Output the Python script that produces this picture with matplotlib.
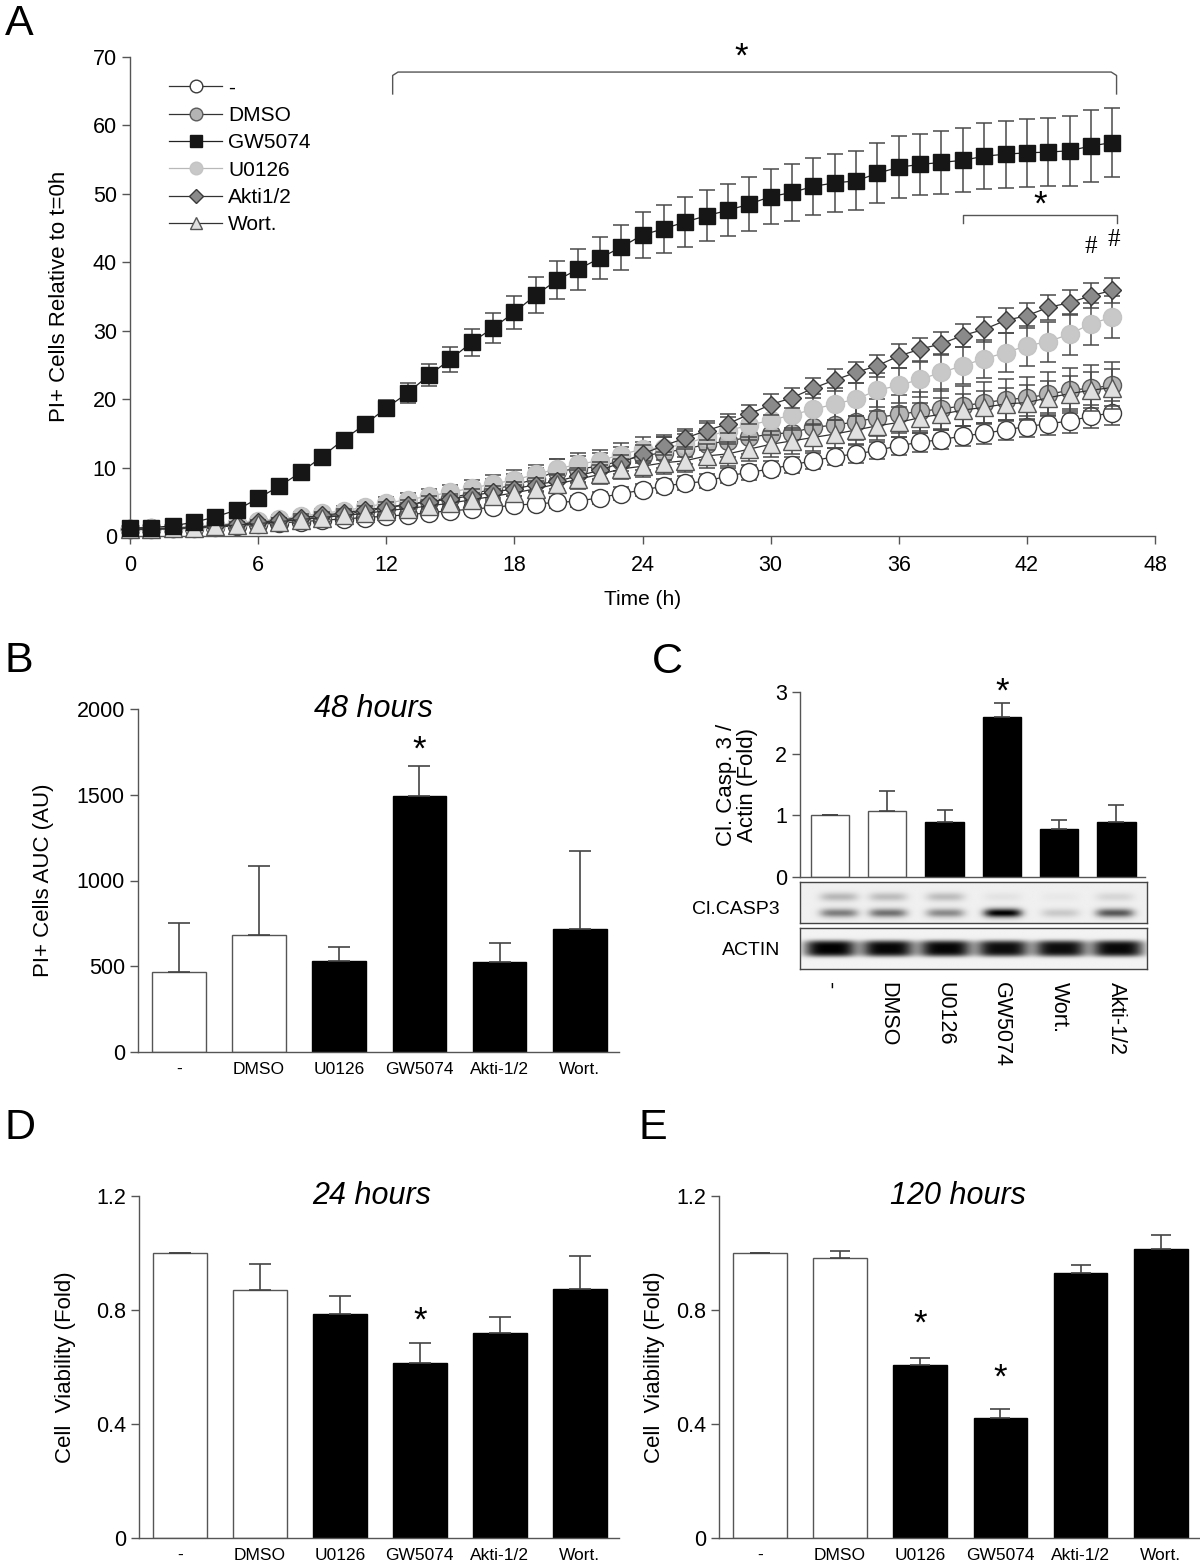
import numpy as np
import matplotlib.pyplot as plt
from matplotlib.lines import Line2D
from matplotlib.transforms import blended_transform_factory

plt.rcParams['font.family'] = ['Liberation Sans', 'DejaVu Sans']

# ---------------- panel A: PI+ cells over time ----------------
hours = np.arange(47)

ctrl = [1.0, 1.0, 1.1, 1.2, 1.3, 1.5, 1.7, 1.9, 2.1, 2.3,
        2.5, 2.7, 2.9, 3.1, 3.4, 3.7, 3.9, 4.2, 4.5, 4.7,
        4.9, 5.1, 5.6, 6.2, 6.7, 7.3, 7.7, 8.0, 8.8, 9.3,
        9.8, 10.4, 11.0, 11.6, 12.0, 12.5, 13.2, 13.7, 14.1, 14.6,
        15.0, 15.5, 16.0, 16.4, 16.8, 17.5, 18.0]
ctrl_err = [0.2, 0.2, 0.2, 0.2, 0.3, 0.3, 0.3, 0.3, 0.4, 0.4,
            0.5, 0.5, 0.5, 0.6, 0.6, 0.6, 0.7, 0.7, 0.7, 0.8,
            0.8, 0.8, 0.9, 0.9, 0.9, 1.0, 1.0, 1.0, 1.1, 1.1,
            1.1, 1.2, 1.2, 1.2, 1.3, 1.3, 1.3, 1.4, 1.4, 1.5,
            1.5, 1.5, 1.6, 1.6, 1.7, 1.7, 1.8]

dmso = [1.0, 1.1, 1.2, 1.3, 1.5, 1.8, 2.0, 2.3, 2.6, 2.9,
        3.2, 3.6, 4.1, 4.6, 5.1, 5.6, 6.2, 6.8, 7.5, 8.3,
        9.5, 9.8, 10.2, 11.0, 11.7, 12.2, 12.7, 13.4, 13.9, 14.4,
        14.9, 15.1, 15.9, 16.2, 16.7, 17.3, 17.8, 18.2, 18.6, 19.0,
        19.5, 19.9, 20.2, 20.7, 21.3, 21.6, 22.0]
dmso_err = [0.2, 0.2, 0.3, 0.3, 0.4, 0.4, 0.5, 0.5, 0.6, 0.7,
            0.8, 0.9, 1.0, 1.1, 1.2, 1.3, 1.4, 1.5, 1.6, 1.7,
            1.8, 1.9, 2.0, 2.0, 2.1, 2.2, 2.2, 2.3, 2.4, 2.4,
            2.5, 2.5, 2.6, 2.6, 2.7, 2.7, 2.8, 2.8, 2.9, 2.9,
            3.0, 3.1, 3.1, 3.2, 3.3, 3.4, 3.5]

gw5074 = [1.2, 1.2, 1.5, 2.0, 2.8, 3.8, 5.5, 7.3, 9.3, 11.6,
          14.1, 16.3, 18.7, 20.9, 23.5, 25.8, 28.3, 30.4, 32.7, 35.2,
          37.4, 39.0, 40.6, 42.2, 44.0, 44.9, 45.9, 46.8, 47.6, 48.5,
          49.6, 50.2, 51.1, 51.6, 51.9, 53.0, 53.9, 54.3, 54.6, 54.9,
          55.5, 55.8, 56.0, 56.1, 56.3, 57.0, 57.5]
gw5074_err = [0.3, 0.3, 0.3, 0.4, 0.4, 0.4, 0.5, 0.5, 0.6, 0.7,
              0.8, 1.0, 1.2, 1.5, 1.6, 1.8, 2.0, 2.2, 2.4, 2.6,
              2.8, 3.0, 3.1, 3.3, 3.4, 3.5, 3.6, 3.7, 3.8, 3.9,
              4.0, 4.1, 4.2, 4.2, 4.3, 4.4, 4.5, 4.5, 4.6, 4.7,
              4.8, 4.9, 5.0, 5.0, 5.1, 5.3, 5.0]

u0126 = [1.0, 1.1, 1.2, 1.4, 1.6, 1.9, 2.2, 2.5, 2.9, 3.3,
         3.7, 4.2, 4.8, 5.3, 5.8, 6.4, 7.0, 7.6, 8.2, 9.0,
         9.8, 10.5, 11.0, 11.9, 12.7, 12.9, 13.4, 14.5, 15.4, 16.2,
         16.9, 17.7, 18.5, 19.3, 20.0, 21.3, 22.0, 22.9, 23.9, 24.9,
         25.9, 26.8, 27.8, 28.4, 29.5, 31.0, 32.0]
u0126_err = [0.2, 0.2, 0.3, 0.3, 0.4, 0.4, 0.5, 0.5, 0.6, 0.7,
             0.7, 0.8, 0.9, 1.0, 1.0, 1.1, 1.2, 1.3, 1.4, 1.4,
             1.5, 1.6, 1.6, 1.7, 1.8, 1.8, 1.9, 2.0, 2.0, 2.1,
             2.2, 2.2, 2.3, 2.4, 2.4, 2.5, 2.5, 2.6, 2.7, 2.7,
             2.8, 2.8, 2.9, 2.9, 3.0, 3.1, 3.1]

akti = [1.0, 1.0, 1.1, 1.3, 1.5, 1.7, 2.0, 2.3, 2.7, 3.0,
        3.4, 3.8, 4.2, 4.6, 5.0, 5.4, 5.9, 6.4, 6.9, 7.5,
        8.0, 8.8, 9.6, 10.7, 12.0, 13.2, 14.3, 15.4, 16.4, 17.8,
        19.2, 20.2, 21.6, 22.8, 23.9, 24.9, 26.3, 27.3, 28.1, 29.3,
        30.2, 31.5, 32.2, 33.4, 34.1, 35.1, 35.9]
akti_err = [0.2, 0.2, 0.2, 0.3, 0.3, 0.3, 0.4, 0.4, 0.5, 0.5,
            0.6, 0.6, 0.7, 0.7, 0.8, 0.8, 0.9, 0.9, 1.0, 1.0,
            1.1, 1.1, 1.2, 1.2, 1.3, 1.3, 1.3, 1.4, 1.4, 1.4,
            1.5, 1.5, 1.5, 1.6, 1.6, 1.6, 1.7, 1.7, 1.7, 1.7,
            1.8, 1.8, 1.8, 1.8, 1.8, 1.8, 1.8]

wort = [1.0, 1.0, 1.1, 1.2, 1.4, 1.6, 1.8, 2.1, 2.4, 2.7,
        3.0, 3.3, 3.7, 4.0, 4.4, 4.8, 5.3, 5.8, 6.3, 6.9,
        7.6, 8.3, 9.0, 9.8, 10.2, 10.7, 11.0, 11.7, 12.0, 12.7,
        13.4, 13.9, 14.4, 14.9, 15.5, 16.1, 16.6, 17.3, 17.8, 18.4,
        18.8, 19.3, 19.5, 20.2, 20.8, 21.3, 21.7]
wort_err = [0.2, 0.2, 0.2, 0.3, 0.3, 0.4, 0.4, 0.5, 0.5, 0.6,
            0.6, 0.7, 0.8, 0.8, 0.9, 1.0, 1.0, 1.1, 1.2, 1.2,
            1.3, 1.4, 1.4, 1.5, 1.6, 1.6, 1.7, 1.7, 1.8, 1.8,
            1.9, 1.9, 2.0, 2.0, 2.1, 2.1, 2.2, 2.2, 2.3, 2.3,
            2.4, 2.4, 2.5, 2.5, 2.6, 2.6, 2.7]

# ---------------- panels B, D, E ----------------
bar_labels = ['-', 'DMSO', 'U0126', 'GW5074', 'Akti-1/2', 'Wort.']
auc_48h = [465, 680, 530, 1495, 525, 715]
auc_48h_err = [290, 405, 85, 170, 110, 455]
via_24h = [1.0, 0.87, 0.785, 0.615, 0.72, 0.875]
via_24h_err = [0.0, 0.09, 0.065, 0.07, 0.055, 0.115]
via_120h = [1.0, 0.983, 0.608, 0.42, 0.93, 1.015]
via_120h_err = [0.0, 0.025, 0.025, 0.033, 0.028, 0.048]

# ---------------- panel C ----------------
lane_labels = ['-', 'DMSO', 'U0126', 'GW5074', 'Wort.', 'Akti-1/2']
casp_ratio = [1.0, 1.07, 0.9, 2.6, 0.78, 0.9]
casp_ratio_err = [0.0, 0.32, 0.18, 0.22, 0.15, 0.26]
casp3_lower = [0.45, 0.5, 0.4, 0.95, 0.15, 0.6]
casp3_upper = [0.22, 0.2, 0.2, 0.05, 0.03, 0.1]
casp3_shift = [0.15, 0.0, 0.0, 0.0, 0.0, -0.05]
actin_band = [0.95, 0.93, 0.93, 0.9, 0.9, 0.92]

fill = ['white', 'white', 'black', 'black', 'black', 'black']
AXC = '#555555'

fig = plt.figure(figsize=(12, 15.66), dpi=100)


def px_axes(left, top, right, bottom):
    return fig.add_axes([left / 1200, 1 - bottom / 1566,
                         (right - left) / 1200, (bottom - top) / 1566])


def style_axes(ax):
    for s in ['top', 'right']:
        ax.spines[s].set_visible(False)
    for s in ['left', 'bottom']:
        ax.spines[s].set_color(AXC)
        ax.spines[s].set_linewidth(1.0)


# ---- A ----
axA = px_axes(130, 57, 1155, 536)
series = [
    ('-', ctrl, ctrl_err, 'o', 'white', '#3a3a3a', 13, '#333333', 2),
    ('DMSO', dmso, dmso_err, 'o', '#b4b4b4', '#5a5a5a', 13, '#333333', 3),
    ('GW5074', gw5074, gw5074_err, 's', '#161616', '#161616', 11.5, '#222222', 6),
    ('U0126', u0126, u0126_err, 'o', '#c8c8c8', '#c4c4c4', 13, '#b8b8b8', 4),
    ('Akti1/2', akti, akti_err, 'D', '#8a8a8a', '#3a3a3a', 9.5, '#333333', 5),
    ('Wort.', wort, wort_err, '^', '#e0e0e0', '#555555', 12.5, '#333333', 5.2),
]
handles = []
for name, vals, errs, mk, fc, ec, ms, lc, z in series:
    axA.errorbar(hours, vals, yerr=errs, fmt='none', ecolor='#4a4a4a',
                 elinewidth=1.1, capsize=5.5, capthick=1.1, zorder=z, clip_on=False)
    axA.plot(hours, vals, color=lc, lw=0.9, marker=mk, ms=ms, mfc=fc, mec=ec,
             mew=1.0, zorder=z + 0.5, clip_on=False)
    handles.append(Line2D([0], [0], color=lc, lw=0.9, marker=mk, ms=ms * 0.7,
                          mfc=fc, mec=ec, mew=1.0))
axA.set_xlim(0, 48)
axA.set_ylim(0, 70)
axA.set_xticks(range(0, 49, 6))
axA.set_yticks(range(0, 71, 10))
style_axes(axA)
axA.tick_params(direction='out', length=6, width=1, color=AXC, labelsize=15.5)
axA.tick_params(axis='x', pad=8)
axA.set_xlabel('Time (h)', fontsize=15, labelpad=10)
axA.set_ylabel('PI+ Cells Relative to t=0h', fontsize=16, labelpad=16)
axA.legend(handles, [s[0] for s in series], loc='upper left',
           bbox_to_anchor=(0.038, 0.955), frameon=False, fontsize=15,
           handlelength=2.55, handletextpad=0.3, labelspacing=0.4,
           borderaxespad=0, borderpad=0)
# significance brackets
axA.plot([12.3, 12.3, 12.55, 45.95, 46.2, 46.2], [64.6, 67.3, 67.8, 67.8, 67.3, 64.6],
         color=AXC, lw=1.0, clip_on=False)
axA.text(28.6, 70.0, '*', ha='center', va='center', fontsize=25)
axA.plot([39.0, 39.0, 46.2, 46.2], [45.8, 46.9, 46.9, 45.8], color=AXC, lw=1.0)
axA.text(42.6, 48.3, '*', ha='center', va='center', fontsize=25)
axA.text(45.0, 42.2, '#', ha='center', va='center', fontsize=18, family='Liberation Serif')
axA.text(46.05, 43.3, '#', ha='center', va='center', fontsize=18, family='Liberation Serif')


def bar_panel(ax, vals, errs, ylim, yticks, yticklabels, ylabel, title,
              title_x, stars, capsize, labels=None, xlim=(-0.51, 5.49), ylpad=14):
    x = np.arange(len(vals))
    edges = [AXC if c == 'white' else 'black' for c in fill]
    ax.bar(x, vals, width=0.67, color=fill, edgecolor=edges, linewidth=1.0, zorder=2)
    ax.errorbar(x, vals, yerr=[np.zeros(len(vals)), errs], fmt='none', ecolor='#444444',
                elinewidth=1.2, capsize=capsize, capthick=1.2, zorder=3)
    ax.set_xlim(*xlim)
    ax.set_ylim(*ylim)
    ax.set_yticks(yticks)
    ax.set_yticklabels(yticklabels)
    style_axes(ax)
    ax.tick_params(axis='y', direction='out', length=6, width=1, color=AXC, labelsize=15.5)
    if labels is None:
        ax.set_xticks([])
    else:
        ax.set_xticks(x)
        ax.set_xticklabels(labels, fontsize=12.5)
        ax.tick_params(axis='x', length=0, pad=7)
    ax.set_ylabel(ylabel, fontsize=16, labelpad=ylpad)
    if title:
        ax.text(title_x, 1.0, title, transform=ax.transAxes, ha='center', va='center',
                fontsize=22, style='italic')
    for i, yv in stars:
        ax.text(i, yv, '*', ha='center', va='center', fontsize=25)


# ---- B ----
axB = px_axes(138, 709, 619, 1052)
bar_panel(axB, auc_48h, auc_48h_err, (0, 2000), [0, 500, 1000, 1500, 2000],
          ['0', '500', '1000', '1500', '2000'], 'PI+ Cells AUC (AU)', '48 hours', 0.49,
          [(3, 1760)], 8, labels=bar_labels, ylpad=16)

# ---- D ----
axD = px_axes(139, 1196, 619, 1538)
bar_panel(axD, via_24h, via_24h_err, (0, 1.2), [0, 0.4, 0.8, 1.2],
          ['0', '0.4', '0.8', '1.2'], 'Cell  Viability (Fold)', '24 hours', 0.485,
          [(3, 0.76)], 8, labels=bar_labels, ylpad=14)

# ---- E ----
axE = px_axes(719, 1196, 1200, 1538)
bar_panel(axE, via_120h, via_120h_err, (0, 1.2), [0, 0.4, 0.8, 1.2],
          ['0', '0.4', '0.8', '1.2'], 'Cell  Viability (Fold)', '120 hours', 0.497,
          [(2, 0.75), (3, 0.56)], 7.5, labels=bar_labels, ylpad=8)

# ---- C ----
c_xlim = (-0.524, 5.5)
axC = px_axes(800, 692, 1145, 877)
bar_panel(axC, casp_ratio, casp_ratio_err, (0, 3), [0, 1, 2, 3],
          ['0', '1', '2', '3'], 'Cl. Casp. 3 /\nActin (Fold)', None, 0.5,
          [(3, 3.0)], 6, labels=None, xlim=c_xlim, ylpad=12)
axC.yaxis.label.set_linespacing(1.0)

xs = np.linspace(c_xlim[0], c_xlim[1], 420)
ys = np.linspace(0, 1, 60)
X, Y = np.meshgrid(xs, ys)

casp_img = np.full(X.shape, 0.94)
for i, (lo, up, sh) in enumerate(zip(casp3_lower, casp3_upper, casp3_shift)):
    prof = np.exp(-((X - i - sh) / 0.33) ** 4)
    casp_img -= lo * prof * np.exp(-((Y - 0.24) / 0.11) ** 2)
    casp_img -= up * prof * np.exp(-((Y - 0.64) / 0.11) ** 2)
actin_img = np.full(X.shape, 0.95)
for i, a in enumerate(actin_band):
    prof = np.exp(-((X - i) / 0.45) ** 4)
    actin_img -= a * prof * np.exp(-((Y - 0.5) / 0.2) ** 4)

for (top, bot, img) in [(882, 923, casp_img), (928, 969, actin_img)]:
    axb = px_axes(800, top, 1147, bot)
    axb.imshow(np.clip(img, 0, 1), cmap='gray', vmin=0, vmax=1, origin='lower',
               extent=(c_xlim[0], c_xlim[1], 0, 1), aspect='auto', interpolation='bilinear')
    axb.set_xticks([])
    axb.set_yticks([])
    for s in axb.spines.values():
        s.set_color('#444444')
        s.set_linewidth(1.0)

fig.text(780 / 1200, 1 - 909 / 1566, 'Cl.CASP3', ha='right', va='center', fontsize=14)
fig.text(780 / 1200, 1 - 950 / 1566, 'ACTIN', ha='right', va='center', fontsize=14)

tr = blended_transform_factory(axC.transData, fig.transFigure)
for i, lab in enumerate(lane_labels):
    axC.text(i, 1 - 982 / 1566, lab, transform=tr, rotation=270, ha='center', va='top',
             fontsize=15.5)

# panel letters
for lab, x, y in [('A', 5, 24), ('B', 5, 661), ('C', 652, 662), ('D', 5, 1128), ('E', 638, 1128)]:
    fig.text(x / 1200, 1 - y / 1566, lab, ha='left', va='center', fontsize=31)

fig.savefig('out.png', dpi=100)
